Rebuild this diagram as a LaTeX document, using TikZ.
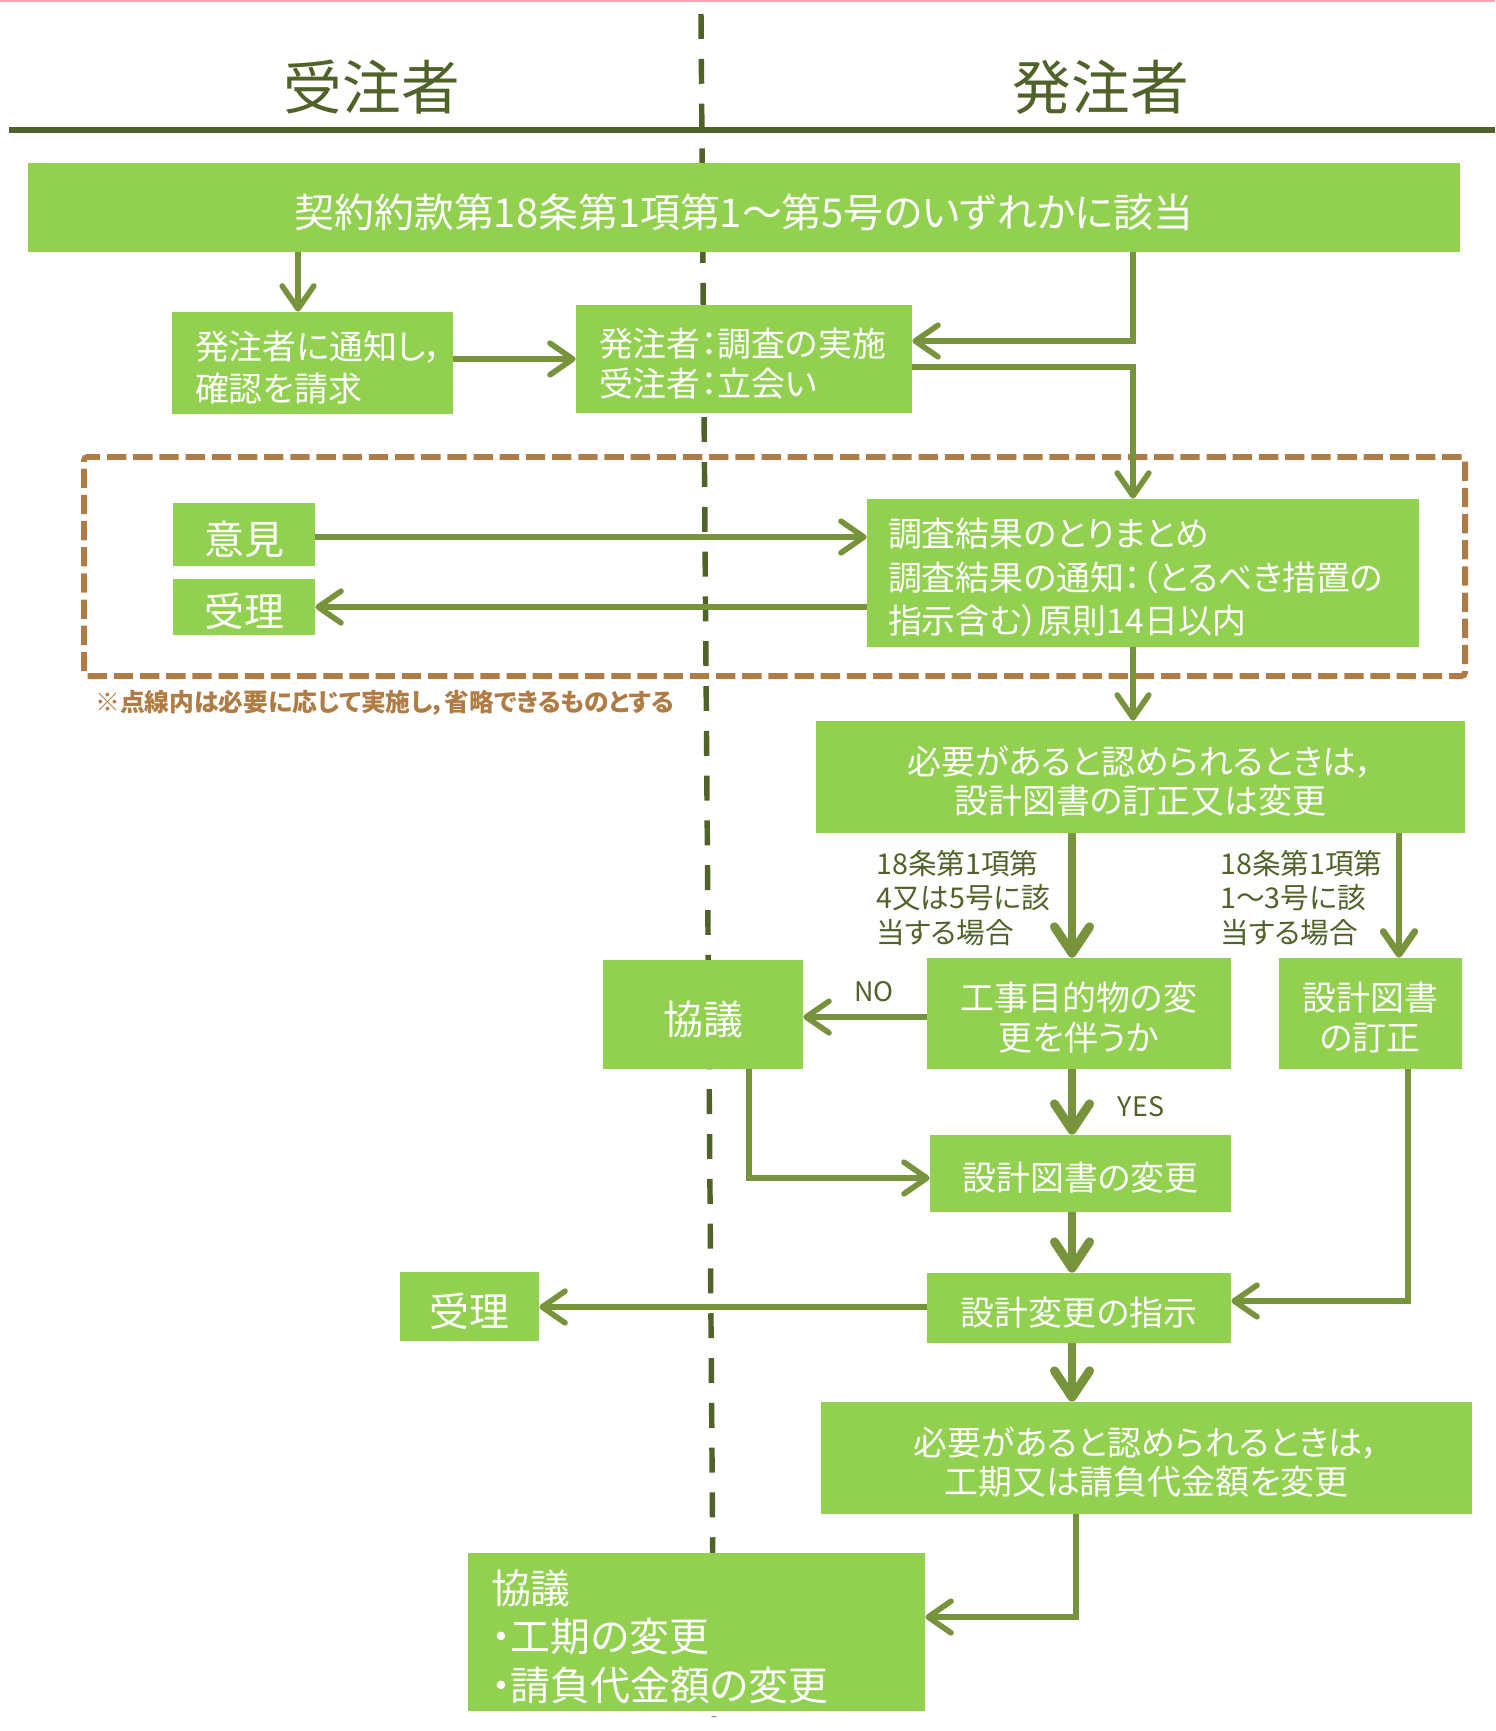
\documentclass[tikz,border=0pt]{standalone}
\usepackage{fontspec}
\setmainfont{Noto Sans CJK JP}[RawFeature=+palt]
\usetikzlibrary{arrows.meta}
\definecolor{boxg}{HTML}{92D050}
\definecolor{arr}{HTML}{77933C}
\definecolor{darkol}{HTML}{4F6228}
\definecolor{brn}{HTML}{B07C45}
\definecolor{pinkl}{HTML}{F2A7B0}
\newcommand\myfs[2]{\fontsize{#1}{#2}\selectfont}
\newcommand\tst{\rule{0pt}{\dimexpr0.9em+4pt\relax}}
\tikzset{
  box/.style 2 args={fill=boxg, text=white, inner sep=0pt, anchor=center,
    minimum width=#1*0.02cm, minimum height=#2*0.02cm},
  lbox/.style n args={3}{box={#1}{#2}, align=left, inner xsep=#3*0.02cm,
    text width=(#1-2*#3)*0.02cm},
  body/.style={font=\myfs{19.3pt}{23pt}},
  big/.style={font=\myfs{22.7pt}{27.5pt}},
  thinc/.style={draw=arr, line width=3.2pt, -{Straight Barb[length=13pt,width=18pt,round]}},
  thickc/.style={draw=arr, line width=5.1pt, -{Straight Barb[length=15pt,width=20pt,round]}},
  lbl/.style={text=darkol, inner sep=0pt, align=left, anchor=west, font=\myfs{16.3pt}{19.8pt}},
}
\begin{document}
\begin{tikzpicture}[x=0.02cm,y=-0.02cm]
\useasboundingbox (0,0) rectangle (1495,1731);
% top pink line
\coordinate (pk1) at (0,1);
\coordinate (pk2) at (1495,1);
\draw[pinkl, line width=1.2pt] (pk1) -- (pk2);
% divider
\coordinate (dv1) at (701,14);
\coordinate (dv2) at (714,1717);
\draw[darkol, line width=3.1pt, dash pattern=on 14.2pt off 11.3pt] (dv1) -- (dv2);
% header line
\coordinate (hl1) at (9,130);
\coordinate (hl2) at (1495,130);
\draw[darkol, line width=3.4pt] (hl1) -- (hl2);
\node[text=darkol, font=\myfs{33.4pt}{36pt}] (hj) at (372,87) {受注者};
\node[text=darkol, font=\myfs{33.4pt}{36pt}] (hh) at (1101,87) {発注者};
% optional region
\node[draw=brn, line width=3.4pt, dash pattern=on 11pt off 3.9pt, rounded corners=2pt,
  minimum width=1381*0.02cm, minimum height=219*0.02cm, inner sep=0pt] (opt) at (774.5,566.5) {};
\node[text=brn, anchor=west, inner sep=0pt, font=\myfs{14.1pt}{16pt}\bfseries] (note) at (95,703)
  {※点線内は必要に応じて実施し，省略できるものとする};
% boxes
\node[box={1432}{89}, font=\myfs{22.7pt}{26pt}] (top) at (744,207.5)
  {\tst 契約約款第18条第1項第1～第5号のいずれかに該当};
\node[lbox={281}{102}{23}, font=\myfs{19.3pt}{23.8pt}] (box2) at (312.5,363)
  {\tst 発注者に通知し，\\確認を請求};
\node[lbox={336}{108}{23}, font=\myfs{19.3pt}{22.7pt}] (box3) at (744,359)
  {\tst 発注者：調査の実施\\受注者：立会い};
\node[box={142}{63}, big] (ikn) at (244,534.5) {\tst 意見};
\node[box={142}{56}, big] (jr1) at (244,607) {\tst 受理};
\node[lbox={552}{148}{21}, font=\myfs{19.3pt}{24.7pt}] (survey) at (1143,573)
  {\tst 調査結果のとりまとめ\\調査結果の通知：（とるべき措置の\\指示含む）原則14日以内};
\node[box={649}{112}, align=center, font=\myfs{19.3pt}{22.1pt}] (need1) at (1140.5,777)
  {\tst 必要があると認められるときは，\\設計図書の訂正又は変更};
\node[box={304}{111}, align=center, font=\myfs{19.3pt}{22.7pt}] (kouji) at (1079,1013.5)
  {\tst 工事目的物の変\\更を伴うか};
\node[box={183}{111}, align=center, font=\myfs{19.3pt}{22.7pt}] (teisei) at (1370.5,1013.5)
  {\tst 設計図書\\の訂正};
\node[box={200}{109}, big] (kyogi) at (703,1014.5) {\tst 協議};
\node[box={301}{77}, body] (henkou) at (1080.5,1173.5) {\tst 設計図書の変更};
\node[box={304}{70}, body] (shiji) at (1079,1308) {\tst 設計変更の指示};
\node[box={139}{69}, big] (jr2) at (469.5,1306.5) {\tst 受理};
\node[box={651}{112}, align=center, font=\myfs{19.3pt}{22.1pt}] (need2) at (1146.5,1458)
  {\tst 必要があると認められるときは，\\工期又は請負代金額を変更};
\node[lbox={457}{158}{23}, font=\myfs{22.7pt}{27.5pt}] (final) at (696.5,1632)
  {\tst 協議\\・工期の変更\\・請負代金額の変更};
% labels
\node[lbl] (l1) at (876,898) {18条第1項第\\4又は5号に該\\当する場合};
\node[lbl] (l2) at (1220,898) {18条第1項第\\1～3号に該\\当する場合};
\node[text=darkol, inner sep=0pt, font=\myfs{15.3pt}{17pt}] (no) at (874,992) {NO};
\node[text=darkol, inner sep=0pt, font=\myfs{15.3pt}{17pt}] (yes) at (1141,1107) {YES};
% helper coordinates
\coordinate (xA) at (298,0);
\coordinate (xR) at (1133,0);
\coordinate (xT) at (1072,0);
\coordinate (xI) at (1399,0);
\coordinate (xK) at (749,0);
\coordinate (xN) at (1408,0);
\coordinate (xQ) at (1076,0);
\coordinate (yB) at (0,341);
\coordinate (yC) at (0,359);
\coordinate (yD) at (0,367);
\coordinate (yE) at (0,537);
\coordinate (yF) at (0,607);
\coordinate (yJ) at (0,1017);
\coordinate (yK) at (0,1178);
\coordinate (yN) at (0,1301);
\coordinate (yO) at (0,1307);
\coordinate (yQ) at (0,1617);
% connectors
\draw[thinc] (xA |- top.south) -- (xA |- box2.north);
\draw[thinc] (xR |- top.south) |- (box3.east |- yB);
\draw[thinc] (box2.east |- yC) -- (box3.west |- yC);
\draw[thinc] (box3.east |- yD) -| (xR |- survey.north);
\draw[thinc] (ikn.east |- yE) -- (survey.west |- yE);
\draw[thinc] (survey.west |- yF) -- (jr1.east |- yF);
\draw[thinc] (xR |- survey.south) -- (xR |- need1.north);
\draw[thickc] (xT |- need1.south) -- (xT |- kouji.north);
\draw[thinc, line width=3.8pt] (xI |- need1.south) -- (xI |- teisei.north);
\draw[thinc] (kouji.west |- yJ) -- (kyogi.east |- yJ);
\draw[thinc] (xK |- kyogi.south) |- (henkou.west |- yK);
\draw[thickc] (xT |- kouji.south) -- (xT |- henkou.north);
\draw[thickc] (xT |- henkou.south) -- (xT |- shiji.north);
\draw[thinc] (xN |- teisei.south) |- (shiji.east |- yN);
\draw[thinc] (shiji.west |- yO) -- (jr2.east |- yO);
\draw[thickc] (xT |- shiji.south) -- (xT |- need2.north);
\draw[thinc] (xQ |- need2.south) |- (final.east |- yQ);
\end{tikzpicture}
\end{document}
